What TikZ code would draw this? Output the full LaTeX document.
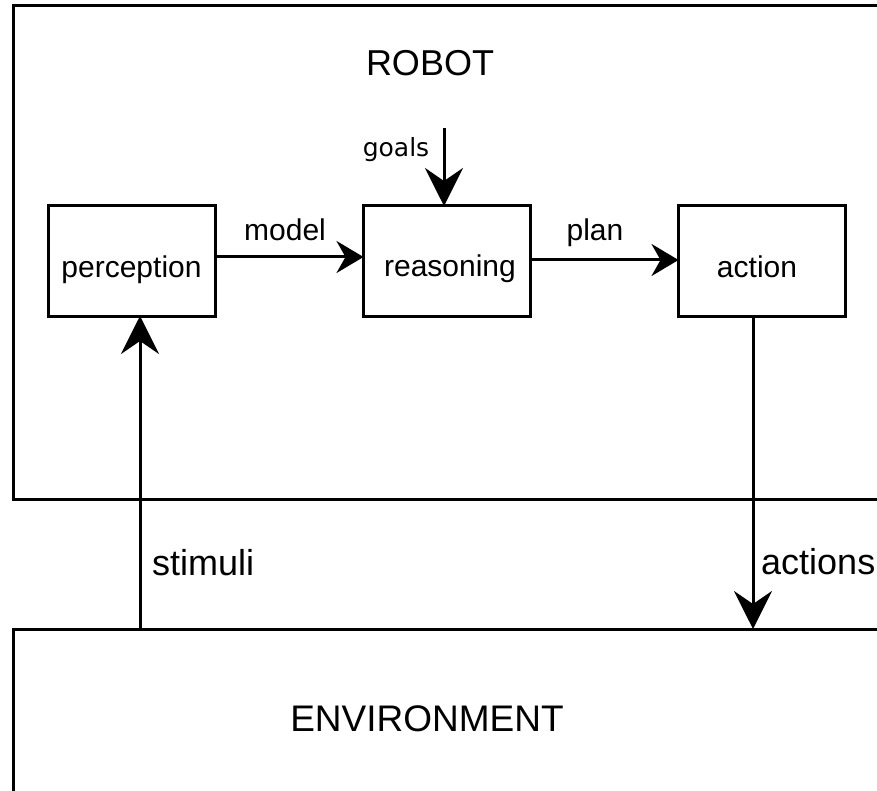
\documentclass[tikz,border=0pt]{standalone}
\usepackage{fontspec}
\setmainfont{Liberation Sans}
\newfontfamily\goalsfont{DejaVu Sans}
\usetikzlibrary{arrows.meta}
\tikzset{
  block/.style={draw, line width=3pt, minimum width=167pt, minimum height=110pt, inner sep=0pt, outer sep=0pt},
  frame/.style={line width=3pt},
  boxtext/.style={anchor=base, inner sep=0pt, font=\fontsize{30}{36}\selectfont},
  bigtext/.style={anchor=base, inner sep=0pt, font=\fontsize{36}{43}\selectfont},
  smalltext/.style={anchor=base, inner sep=0pt, font=\goalsfont\fontsize{25}{30}\selectfont},
  harrow/.style={line width=3pt, -{Stealth[length=27pt, width=32pt, inset=9pt]}},
  varrow/.style={line width=3pt, -{Stealth[length=38pt, width=38pt, inset=13pt]}}
}
\begin{document}
\begin{tikzpicture}[x=1pt, y=-1pt]
\useasboundingbox (0,0) rectangle (877,791);
% frames
\draw[frame] (877,5.5) -- (13.5,5.5) -- (13.5,499) -- (877,499);
\draw[frame] (877,629) -- (13.5,629) -- (13.5,791);
\node[bigtext] (robotlbl) at (430,76) {ROBOT};
\node[bigtext, font=\fontsize{37}{44}\selectfont] (envlbl) at (427,731) {ENVIRONMENT};
% blocks
\node[block] (perception) at (132,261) {};
\node[block] (reasoning) at (447,261) {};
\node[block] (action) at (762,261) {};
\node[boxtext] (perceptionlbl) at (131.5,278) {perception};
\node[boxtext] (reasoninglbl) at (450,277) {reasoning};
\node[boxtext] (actionlbl) at (757,278) {action};
% coordinates
\coordinate (envS) at (140,629);
\coordinate (envA) at (753,629);
\coordinate (goalsTop) at (444,128);
% connectors
\draw[harrow] ([yshift=4pt]perception.east) -- ([yshift=4pt]reasoning.west);
\draw[harrow] ([yshift=1pt]reasoning.east) -- ([yshift=1pt]action.west);
\draw[varrow] (goalsTop) -- (goalsTop |- reasoning.north);
\draw[varrow] (envS) -- (envS |- perception.south);
\draw[varrow] (envA |- action.south) -- (envA);
% labels
\node[boxtext] (modellbl) at (285,241) {model};
\node[boxtext] (planlbl) at (595,241) {plan};
\node[smalltext] (goalslbl) at (396,157) {goals};
\node[bigtext, anchor=base west] (stimulilbl) at (152,575) {stimuli};
\node[bigtext, anchor=base west] (actionslbl) at (761,574) {actions};
\end{tikzpicture}
\end{document}
